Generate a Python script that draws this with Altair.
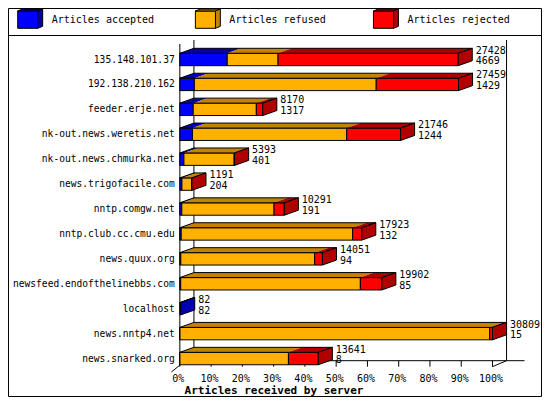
import altair as alt
import pandas as pd

# ---------------- data ----------------
servers = [
    "135.148.101.37", "192.138.210.162", "feeder.erje.net",
    "nk-out.news.weretis.net", "nk-out.news.chmurka.net", "news.trigofacile.com",
    "nntp.comgw.net", "nntp.club.cc.cmu.edu", "news.quux.org",
    "newsfeed.endofthelinebbs.com", "localhost", "news.nntp4.net", "news.snarked.org",
]
totals = [27428, 27459, 8170, 21746, 5393, 1191, 10291, 17923, 14051, 19902, 82, 30809, 13641]
accepted = [4669, 1429, 1317, 1244, 401, 204, 191, 132, 94, 85, 82, 15, 8]
refused = [5009, 17921, 6221, 15202, 4950, 975, 9089, 16893, 13195, 17704, 0, 30517, 10692]
rejected = [17750, 8109, 632, 5300, 42, 12, 1011, 898, 762, 2113, 0, 277, 2941]

series_names = ["Articles accepted", "Articles refused", "Articles rejected"]
face_colors = ["#0000ff", "#ffb000", "#ff0000"]
shade_colors = ["#0000b0", "#c08400", "#b00000"]
tick_values = [0, 10, 20, 30, 40, 50, 60, 70, 80, 90, 100]
tick_labels = ["0%", "10%", "20%", "30%", "40%", "50%", "60%", "70%", "80%", "90%", "100%"]
axis_title = "Articles received by server"

# ---------------- layout (reference pixels) ----------------
X_ZERO, X_FULL = 177.0, 499.0
ROW_TOP, ROW_PITCH = 59.5, 24.92
HALF_H, DEPTH_X, DEPTH_Y = 6.2, 14.5, 5.0
CANVAS_W, CANVAS_H = 534, 389
REF_W = 550.0
ORIGIN_Y = 8
FONT = "DejaVu Sans Mono"

PPX = (X_FULL - X_ZERO) / 100.0


def xp(px):
    return (px - X_ZERO) / PPX


def yr(py):
    return (py - ROW_TOP) / ROW_PITCH


def lx(px):
    return px / PPX


def ly(px):
    return px / ROW_PITCH


max_total = max(totals)


def pct(v):
    return v / max_total * 100.0


xscale = alt.Scale(domain=[xp(0), xp(REF_W)], nice=False, zero=False)
yscale = alt.Scale(domain=[yr(ORIGIN_Y + CANVAS_H), yr(ORIGIN_Y)], nice=False, zero=False)


def X(f):
    return alt.X(f, type="quantitative", scale=xscale, axis=None)


def Y(f):
    return alt.Y(f, type="quantitative", scale=yscale, axis=None)


# ---------------- build geometry tables ----------------
front, top, outline, side, values = [], [], [], [], []
ddx, ddy = lx(DEPTH_X), ly(DEPTH_Y)
for i, name in enumerate(servers):
    counts = [accepted[i], refused[i], rejected[i]]
    yt, yb = i - ly(HALF_H), i + ly(HALF_H)
    cum = 0
    last = 0
    for s, c in enumerate(counts):
        if c <= 0:
            continue
        x0, x1 = pct(cum), pct(cum + c)
        cum += c
        front.append(dict(x=x0, x2=x1, y=yt, y2=yb, series=series_names[s]))
        gid = f"b{i}-{s}"
        top.append(dict(gid=gid, series=series_names[s], y=yt, x=x0, x2=x1))
        top.append(dict(gid=gid, series=series_names[s], y=yt - ddy, x=x0 + ddx, x2=x1 + ddx))
        last = s
    xe = pct(totals[i])
    outline.append(dict(gid=f"o{i}", y=yt, x=0.0, x2=xe))
    outline.append(dict(gid=f"o{i}", y=yt - ddy, x=ddx, x2=xe + ddx))
    side.append(dict(gid=f"s{i}", series=series_names[last], x=xe, y=yt, y2=yb))
    side.append(dict(gid=f"s{i}", series=series_names[last], x=xe + ddx, y=yt - ddy, y2=yb - ddy))
    values.append(dict(x=xe + ddx + lx(3.5), y=i + ly(-9.0), text=str(totals[i])))
    values.append(dict(x=xe + ddx + lx(3.5), y=i + ly(1.8), text=str(accepted[i])))

# legend icons
legend_icon_px = [10.0, 193.0, 376.4]
legend_text = []
ICON_W, ICON_T, ICON_B, ICON_DX, ICON_DY = 20.7, 11.0, 28.3, 5.0, 2.0
for s, ix in enumerate(legend_icon_px):
    nm = series_names[s]
    front.append(dict(x=xp(ix), x2=xp(ix + ICON_W), y=yr(ICON_T), y2=yr(ICON_B), series=nm))
    gid = f"L{s}"
    top.append(dict(gid=gid, series=nm, y=yr(ICON_T), x=xp(ix), x2=xp(ix + ICON_W)))
    top.append(dict(gid=gid, series=nm, y=yr(ICON_T - ICON_DY), x=xp(ix + ICON_DX), x2=xp(ix + ICON_W + ICON_DX)))
    outline.append(dict(gid=f"LO{s}", y=yr(ICON_T), x=xp(ix), x2=xp(ix + ICON_W)))
    outline.append(dict(gid=f"LO{s}", y=yr(ICON_T - ICON_DY), x=xp(ix + ICON_DX), x2=xp(ix + ICON_W + ICON_DX)))
    side.append(dict(gid=f"LS{s}", series=nm, x=xp(ix + ICON_W), y=yr(ICON_T), y2=yr(ICON_B)))
    side.append(dict(gid=f"LS{s}", series=nm, x=xp(ix + ICON_W + ICON_DX), y=yr(ICON_T - ICON_DY), y2=yr(ICON_B - ICON_DY)))
    legend_text.append(dict(x=xp(ix + 35.0), y=yr(20.0), text=nm))

# frame, walls, floor and ticks
lines = []


def seg(x1, y1, x2, y2):
    lines.append(dict(x=x1, y=y1, x2=x2, y2=y2))


FLOOR_BACK, FLOOR_FRONT = 360.7, 366.7
seg(ddx, yr(40), ddx, yr(FLOOR_BACK))
seg(100 + ddx, yr(40), 100 + ddx, yr(FLOOR_BACK))
seg(0, yr(44), 0, yr(FLOOR_FRONT - 1.5))
seg(ddx, yr(FLOOR_BACK), xp(532), yr(FLOOR_BACK))
seg(100, yr(FLOOR_FRONT), 100 + ddx, yr(FLOOR_BACK))
seg(xp(168.3), yr(372), 0, yr(FLOOR_FRONT - 1.5))
for t in tick_values:
    seg(t, yr(FLOOR_BACK), t, yr(FLOOR_FRONT))
# picture frame and legend separator
L, R = 0.5, REF_W - 0.5
T, B = ORIGIN_Y + 0.5, ORIGIN_Y + CANVAS_H - 0.5
seg(xp(L), yr(T), xp(R), yr(T))
seg(xp(L), yr(B), xp(R), yr(B))
seg(xp(L), yr(T), xp(L), yr(B))
seg(xp(R), yr(T), xp(R), yr(B))
seg(xp(L), yr(35.5), xp(R), yr(35.5))

ticks_df = pd.DataFrame(dict(x=tick_values, text=tick_labels, y=[yr(379.0)] * len(tick_values)))
rows_df = pd.DataFrame(dict(x=[xp(171.7)] * len(servers), y=list(range(len(servers))), text=servers))
title_df = pd.DataFrame([dict(x=xp(274.0), y=yr(391.0), text=axis_title)])

face_scale = alt.Scale(domain=series_names, range=face_colors)
shade_scale = alt.Scale(domain=series_names, range=shade_colors)

rules = alt.Chart(pd.DataFrame(lines)).mark_rule(color="black", strokeWidth=1).encode(
    x=X("x"), x2="x2", y=Y("y"), y2="y2"
)
fronts = alt.Chart(pd.DataFrame(front)).mark_rect(stroke="black", strokeWidth=1).encode(
    x=X("x"), x2="x2", y=Y("y"), y2="y2",
    fill=alt.Fill("series:N", scale=face_scale, legend=None),
)
tops = alt.Chart(pd.DataFrame(top)).mark_area(orient="horizontal", strokeWidth=0).encode(
    y=Y("y"), x=X("x"), x2="x2", detail="gid:N",
    fill=alt.Fill("series:N", scale=shade_scale, legend=None),
)
outlines = alt.Chart(pd.DataFrame(outline)).mark_area(
    orient="horizontal", fillOpacity=0, stroke="black", strokeWidth=1
).encode(y=Y("y"), x=X("x"), x2="x2", detail="gid:N")
sides = alt.Chart(pd.DataFrame(side)).mark_area(orient="vertical", stroke="black", strokeWidth=1).encode(
    x=X("x"), y=Y("y"), y2="y2", detail="gid:N",
    fill=alt.Fill("series:N", scale=shade_scale, legend=None),
)
row_text = alt.Chart(rows_df).mark_text(align="right", baseline="middle", font=FONT, fontSize=9.6, color="black").encode(
    x=X("x"), y=Y("y"), text="text:N"
)
value_text = alt.Chart(pd.DataFrame(values)).mark_text(align="left", baseline="middle", font=FONT, fontSize=10, color="black").encode(
    x=X("x"), y=Y("y"), text="text:N"
)
legend_txt = alt.Chart(pd.DataFrame(legend_text)).mark_text(align="left", baseline="middle", font=FONT, fontSize=10, color="black").encode(
    x=X("x"), y=Y("y"), text="text:N"
)
tick_txt = alt.Chart(ticks_df).mark_text(align="center", baseline="middle", dx=-1.5, font=FONT, fontSize=10, color="black").encode(
    x=X("x"), y=Y("y"), text="text:N"
)
title_txt = alt.Chart(title_df).mark_text(align="center", baseline="middle", font=FONT, fontSize=11, fontWeight="bold", color="black").encode(
    x=X("x"), y=Y("y"), text="text:N"
)

chart = (
    alt.layer(rules, fronts, tops, outlines, sides, row_text, value_text, legend_txt, tick_txt, title_txt)
    .resolve_scale(fill="independent")
    .properties(width=CANVAS_W, height=CANVAS_H, autosize=alt.AutoSizeParams(type="none"), padding=0, background="white")
    .configure_view(strokeWidth=0)
)

chart.save("out.html", embed_options={"renderer": "svg", "actions": False})
